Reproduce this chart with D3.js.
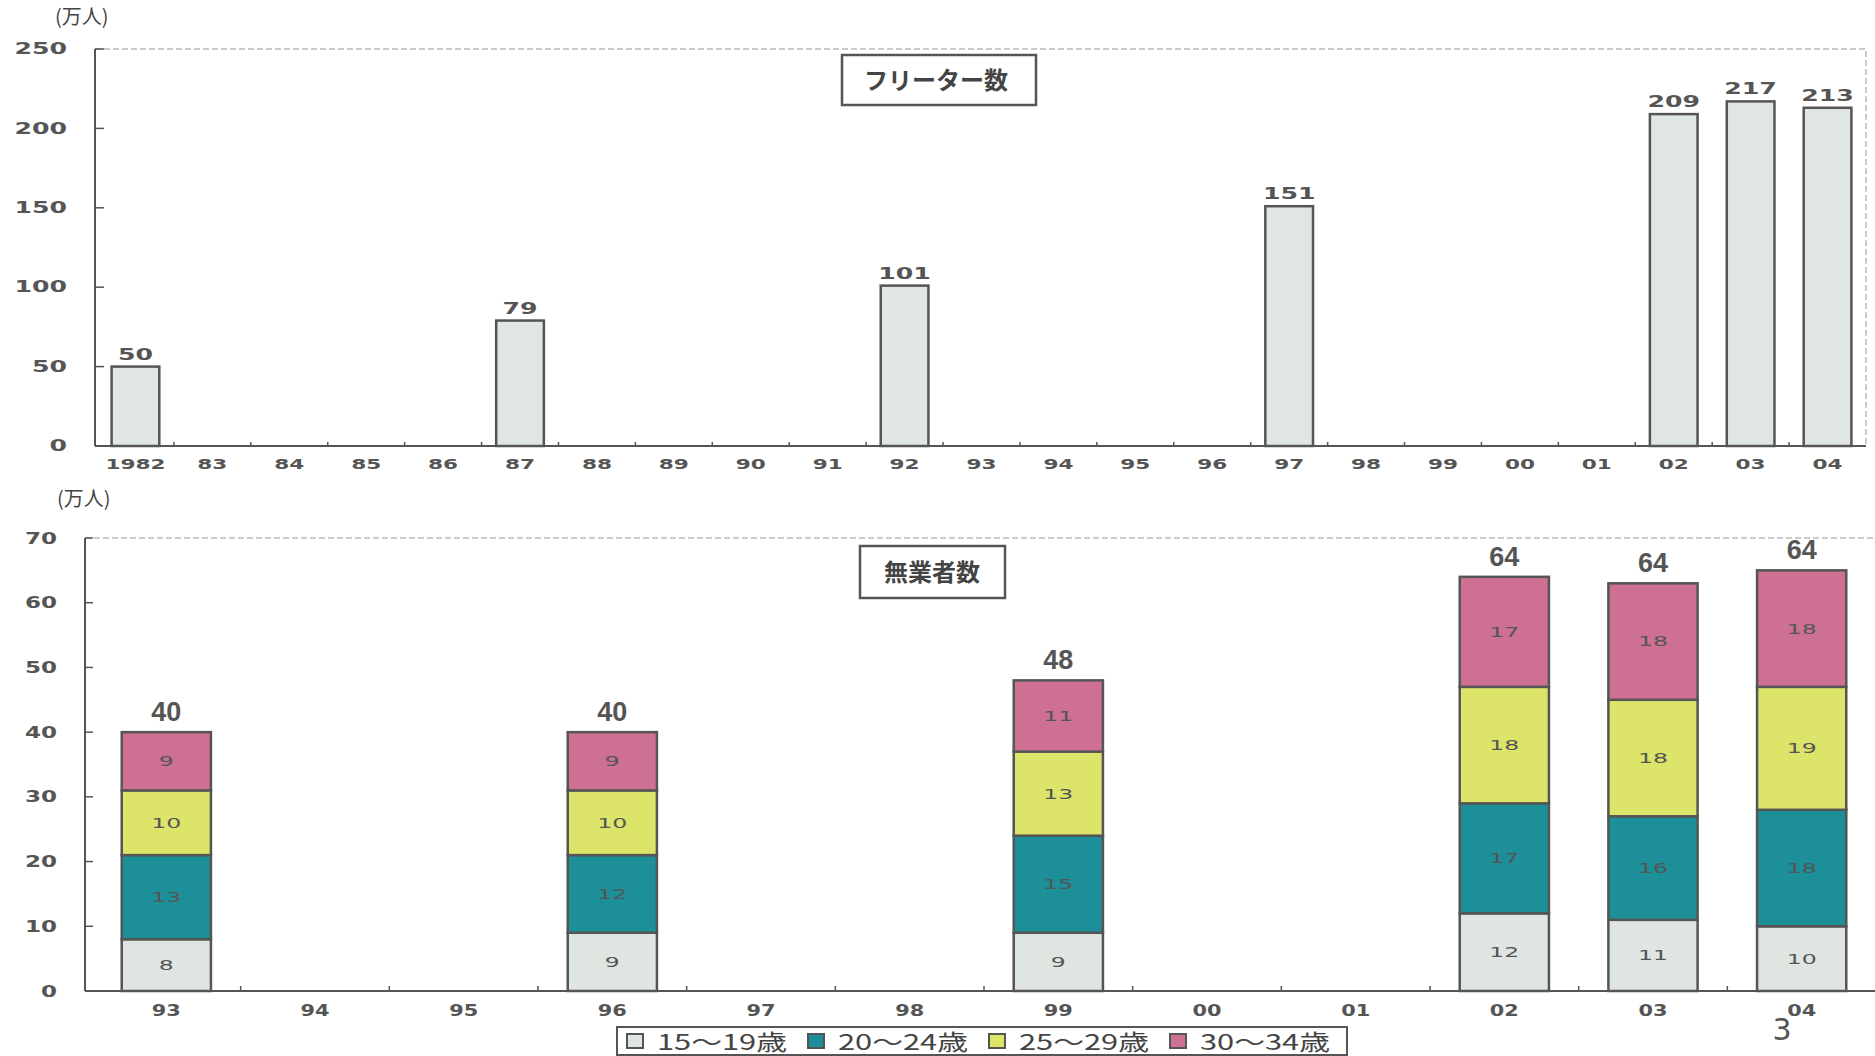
<!DOCTYPE html>
<html lang="ja">
<head>
<meta charset="utf-8">
<title>フリーター数・無業者数</title>
<script src="https://cdn.jsdelivr.net/npm/d3@7/dist/d3.min.js"></script>
<style>
  body { margin: 0; background: #fff; }
  svg { display: block; }
  .num { font-family: "DejaVu Sans", sans-serif; fill: #555; }
  .jp { font-family: "Noto Sans CJK JP", sans-serif; fill: #444; }
  .tot { font-family: "Liberation Sans Narrow", "Liberation Sans", sans-serif; fill: #555; }
</style>
</head>
<body>
<script>
// フリーター数 (top chart)
var topYears = ["1982","83","84","85","86","87","88","89","90","91","92","93","94","95","96","97","98","99","00","01","02","03","04"];
var topValues = [50,null,null,null,null,79,null,null,null,null,101,null,null,null,null,151,null,null,null,null,209,217,213];
var topTicks = [0,50,100,150,200,250];

// 無業者数 (bottom chart)
var botYears = ["93","94","95","96","97","98","99","00","01","02","03","04"];
var age15_19 = [8,null,null,9,null,null,9,null,null,12,11,10];
var age20_24 = [13,null,null,12,null,null,15,null,null,17,16,18];
var age25_29 = [10,null,null,10,null,null,13,null,null,18,18,19];
var age30_34 = [9,null,null,9,null,null,11,null,null,17,18,18];
var botTotals = [40,null,null,40,null,null,48,null,null,64,64,64];
var botTicks = [0,10,20,30,40,50,60,70];
var seriesNames = ["15〜19歳","20〜24歳","25〜29歳","30〜34歳"];
var seriesColors = ["#dfe6e1","#1c8f98","#dce46a","#cd7093"];

var w = 1875, h = 1056;
var svg = d3.select("body").append("svg").attr("width", w).attr("height", h);

// stretch digits wide like the scanned print
function wide(sel, perChar) {
  sel.attr("lengthAdjust", "spacingAndGlyphs")
     .attr("textLength", function() { return this.textContent.length * perChar; });
}

// ---------- top chart ----------
var xTop = d3.scaleBand().domain(topYears).range([97, 1866]);
var yTop = d3.scaleLinear().domain([0, 250]).range([446, 49]);
var topBarW = xTop.bandwidth() * 0.62;

// faint frame
svg.append("path")
   .attr("d", "M" + 95 + "," + yTop(250) + "H" + 1866 + "V" + yTop(0))
   .attr("fill", "none").attr("stroke", "#bbb").attr("stroke-width", 1.5)
   .attr("stroke-dasharray", "6,3");

var topData = topYears.map(function(y, i) { return {year: y, v: topValues[i]}; })
                      .filter(function(d) { return d.v != null; });

svg.selectAll("rect.topbar")
   .data(topData)
   .enter().append("rect")
   .attr("class", "topbar")
   .attr("x", function(d) { return xTop(d.year) + (xTop.bandwidth() - topBarW) / 2; })
   .attr("y", function(d) { return yTop(d.v); })
   .attr("width", topBarW)
   .attr("height", function(d) { return yTop(0) - yTop(d.v); })
   .attr("fill", "#e0e7e2")
   .attr("stroke", "#555").attr("stroke-width", 2.5);

svg.selectAll("text.topval")
   .data(topData)
   .enter().append("text")
   .attr("class", "num")
   .attr("x", function(d) { return xTop(d.year) + xTop.bandwidth() / 2; })
   .attr("y", function(d) { return yTop(d.v) - 7; })
   .attr("text-anchor", "middle")
   .attr("font-size", 15).attr("font-weight", "bold")
   .text(function(d) { return d.v; })
   .call(wide, 17.5);

// axes
var topAxisY = svg.append("g").attr("transform", "translate(95,0)");
topAxisY.append("line").attr("y1", yTop(250)).attr("y2", yTop(0))
        .attr("stroke", "#555").attr("stroke-width", 2);
topAxisY.selectAll("line.tk").data(topTicks).enter().append("line")
        .attr("x1", 0).attr("x2", 9)
        .attr("y1", function(d) { return yTop(d); }).attr("y2", function(d) { return yTop(d); })
        .attr("stroke", "#555").attr("stroke-width", 1.5);
topAxisY.selectAll("text").data(topTicks).enter().append("text")
        .attr("class", "num")
        .attr("x", -28).attr("y", function(d) { return yTop(d); })
        .attr("dy", "0.35em").attr("text-anchor", "end")
        .attr("font-size", 15).attr("font-weight", "bold")
        .text(function(d) { return d; })
        .call(wide, 17.5);

svg.append("line").attr("x1", 95).attr("x2", 1866)
   .attr("y1", yTop(0)).attr("y2", yTop(0))
   .attr("stroke", "#555").attr("stroke-width", 2);
svg.selectAll("line.topxt").data(topYears.slice(1)).enter().append("line")
   .attr("x1", function(d) { return xTop(d); }).attr("x2", function(d) { return xTop(d); })
   .attr("y1", yTop(0)).attr("y2", yTop(0) - 4)
   .attr("stroke", "#555").attr("stroke-width", 1.5);
svg.selectAll("text.topx").data(topYears).enter().append("text")
   .attr("class", "num")
   .attr("x", function(d) { return xTop(d) + xTop.bandwidth() / 2; })
   .attr("y", 469)
   .attr("text-anchor", "middle")
   .attr("font-size", 14).attr("font-weight", "bold")
   .text(function(d) { return d; })
   .call(wide, 15);

svg.append("text").attr("class", "jp")
   .attr("x", 55).attr("y", 24).attr("font-size", 20)
   .text("(万人)");

// title box
svg.append("rect").attr("x", 842).attr("y", 55).attr("width", 194).attr("height", 50)
   .attr("fill", "#fff").attr("stroke", "#555").attr("stroke-width", 2.5);
svg.append("text").attr("class", "jp")
   .attr("x", 936).attr("y", 89).attr("text-anchor", "middle")
   .attr("font-size", 24).attr("font-weight", "bold")
   .text("フリーター数");

// ---------- bottom chart ----------
var xBot = d3.scaleBand().domain(botYears).range([92, 1876]);
var yBot = d3.scaleLinear().domain([0, 70]).range([991, 538]);
var botBarW = xBot.bandwidth() * 0.6;

svg.append("line").attr("x1", 85).attr("x2", 1875)
   .attr("y1", yBot(70)).attr("y2", yBot(70))
   .attr("stroke", "#bbb").attr("stroke-width", 1.5).attr("stroke-dasharray", "6,3");

var rows = botYears.map(function(y, i) {
  return {year: y, a: age15_19[i], b: age20_24[i], c: age25_29[i], d: age30_34[i], total: botTotals[i]};
}).filter(function(r) { return r.a != null; });

var stack = d3.stack().keys(["a","b","c","d"])(rows);

var layers = svg.selectAll("g.layer").data(stack).enter().append("g")
   .attr("fill", function(d, i) { return seriesColors[i]; });

layers.selectAll("rect").data(function(d) { return d; }).enter().append("rect")
   .attr("x", function(d) { return xBot(d.data.year) + (xBot.bandwidth() - botBarW) / 2; })
   .attr("y", function(d) { return yBot(d[1]); })
   .attr("width", botBarW)
   .attr("height", function(d) { return yBot(d[0]) - yBot(d[1]); })
   .attr("stroke", "#555").attr("stroke-width", 2.5);

layers.selectAll("text").data(function(d) { return d.map(function(p) { return {p: p, v: p[1] - p[0]}; }); })
   .enter().append("text")
   .attr("class", "num")
   .attr("x", function(d) { return xBot(d.p.data.year) + xBot.bandwidth() / 2; })
   .attr("y", function(d) { return yBot((d.p[0] + d.p[1]) / 2); })
   .attr("dy", "0.35em").attr("text-anchor", "middle")
   .attr("font-size", 14)
   .style("fill", "#555")
   .text(function(d) { return d.v; })
   .call(wide, 15);

svg.selectAll("text.total").data(rows).enter().append("text")
   .attr("class", "tot")
   .attr("x", function(d) { return xBot(d.year) + xBot.bandwidth() / 2; })
   .attr("y", function(d) { return yBot(d.a + d.b + d.c + d.d) - 11; })
   .attr("text-anchor", "middle")
   .attr("font-size", 27).attr("font-weight", "bold")
   .text(function(d) { return d.total; });

var botAxisY = svg.append("g").attr("transform", "translate(85,0)");
botAxisY.append("line").attr("y1", yBot(70)).attr("y2", yBot(0))
        .attr("stroke", "#555").attr("stroke-width", 2);
botAxisY.selectAll("line.tk").data(botTicks).enter().append("line")
        .attr("x1", 0).attr("x2", 8)
        .attr("y1", function(d) { return yBot(d); }).attr("y2", function(d) { return yBot(d); })
        .attr("stroke", "#555").attr("stroke-width", 1.5);
botAxisY.selectAll("text").data(botTicks).enter().append("text")
        .attr("class", "num")
        .attr("x", -28).attr("y", function(d) { return yBot(d); })
        .attr("dy", "0.35em").attr("text-anchor", "end")
        .attr("font-size", 16).attr("font-weight", "bold")
        .text(function(d) { return d; })
        .call(wide, 16);

svg.append("line").attr("x1", 85).attr("x2", 1875)
   .attr("y1", yBot(0)).attr("y2", yBot(0))
   .attr("stroke", "#555").attr("stroke-width", 2);
svg.selectAll("line.botxt").data(botYears.slice(1)).enter().append("line")
   .attr("x1", function(d) { return xBot(d); }).attr("x2", function(d) { return xBot(d); })
   .attr("y1", yBot(0)).attr("y2", yBot(0) - 5)
   .attr("stroke", "#555").attr("stroke-width", 1.5);
svg.selectAll("text.botx").data(botYears).enter().append("text")
   .attr("class", "num")
   .attr("x", function(d) { return xBot(d) + xBot.bandwidth() / 2; })
   .attr("y", 1016)
   .attr("text-anchor", "middle")
   .attr("font-size", 15).attr("font-weight", "bold")
   .text(function(d) { return d; })
   .call(wide, 14.5);

svg.append("text").attr("class", "jp")
   .attr("x", 57).attr("y", 506).attr("font-size", 20)
   .text("(万人)");

svg.append("rect").attr("x", 860).attr("y", 546).attr("width", 145).attr("height", 52)
   .attr("fill", "#fff").attr("stroke", "#555").attr("stroke-width", 2.5);
svg.append("text").attr("class", "jp")
   .attr("x", 932).attr("y", 581).attr("text-anchor", "middle")
   .attr("font-size", 24).attr("font-weight", "bold")
   .text("無業者数");

// legend
var legend = svg.append("g").attr("transform", "translate(617,1027)");
legend.append("rect").attr("width", 730).attr("height", 28)
      .attr("fill", "#fff").attr("stroke", "#555").attr("stroke-width", 2);
var legX = d3.scalePoint().domain(seriesNames).range([10, 553]);
var item = legend.selectAll("g.item").data(seriesNames).enter().append("g")
      .attr("transform", function(d) { return "translate(" + legX(d) + ",0)"; });
item.append("rect").attr("y", 7).attr("width", 16).attr("height", 14)
    .attr("fill", function(d, i) { return seriesColors[i]; })
    .attr("stroke", "#555").attr("stroke-width", 2);
item.append("text").attr("class", "jp")
    .attr("x", 30).attr("y", 23).attr("font-size", 22)
    .attr("lengthAdjust", "spacingAndGlyphs").attr("textLength", 130)
    .text(function(d) { return d; });

// page number
svg.append("text").attr("class", "num")
   .attr("x", 1782).attr("y", 1040).attr("text-anchor", "middle")
   .attr("font-size", 30)
   .text("3");
</script>
</body>
</html>
